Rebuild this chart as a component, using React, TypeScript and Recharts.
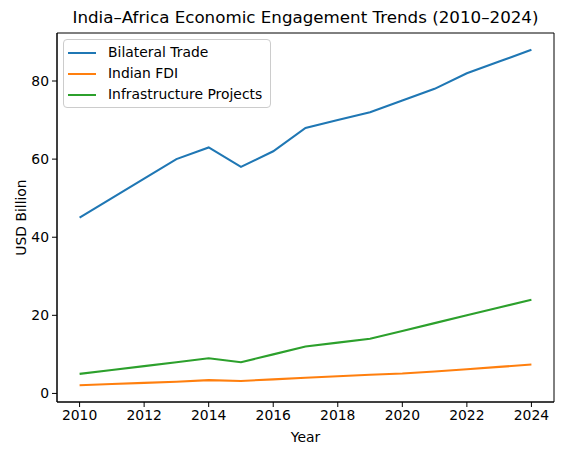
import { LineChart, Line, XAxis, YAxis, Label, ReferenceArea } from "recharts";

const years = [2010, 2011, 2012, 2013, 2014, 2015, 2016, 2017, 2018, 2019, 2020, 2021, 2022, 2023, 2024];
const bilateralTrade = [45, 50, 55, 60, 63, 58, 62, 68, 70, 72, 75, 78, 82, 85, 88];
const indianFdi = [2.1, 2.4, 2.7, 3.0, 3.4, 3.2, 3.6, 4.0, 4.4, 4.8, 5.1, 5.6, 6.2, 6.8, 7.4];
const infraProjects = [5, 6, 7, 8, 9, 8, 10, 12, 13, 14, 16, 18, 20, 22, 24];

const xTicks = [2010, 2012, 2014, 2016, 2018, 2020, 2022, 2024];
const yTicks = [0, 20, 40, 60, 80];
const xDomain = [2009.3, 2024.7];
const yDomain = [-2.195, 92.295];

const series = [
  { key: "trade", name: "Bilateral Trade", color: "#1f77b4" },
  { key: "fdi", name: "Indian FDI", color: "#ff7f0e" },
  { key: "infra", name: "Infrastructure Projects", color: "#2ca02c" },
];

const data = years.map((year, i) => ({
  year,
  trade: bilateralTrade[i],
  fdi: indianFdi[i],
  infra: infraProjects[i],
}));

const FONT = "DejaVu Sans, sans-serif";
const tickStyle = { fontSize: 13.9, fill: "#000", fontFamily: FONT };

function LegendBox() {
  return (
    <div
      style={{
        position: "absolute",
        left: 63,
        top: 39,
        border: "1px solid #cccccc",
        borderRadius: 4,
        background: "rgba(255,255,255,0.8)",
        padding: "2px 8px 2px 4px",
        fontFamily: FONT,
        fontSize: 13.9,
        lineHeight: "21px",
        zIndex: 2,
      }}
    >
      {series.map((s) => (
        <div key={s.key} style={{ display: "flex", alignItems: "center" }}>
          <span
            style={{
              display: "inline-block",
              width: 28,
              height: 2,
              background: s.color,
              marginRight: 12,
            }}
          />
          <span>{s.name}</span>
        </div>
      ))}
    </div>
  );
}

export default function App() {
  return (
    <div style={{ position: "absolute", left: 0, top: 0, width: 562, height: 455, background: "#fff" }}>
      <div
        style={{
          position: "absolute",
          left: 57,
          width: 497,
          top: 7,
          textAlign: "center",
          fontFamily: FONT,
          fontSize: 16.7,
          color: "#000",
        }}
      >
        India–Africa Economic Engagement Trends (2010–2024)
      </div>
      <LineChart width={562} height={455} data={data} margin={{ top: 33, right: 8, bottom: 23, left: 0 }}>
        <XAxis
          dataKey="year"
          type="number"
          domain={xDomain}
          ticks={xTicks}
          allowDataOverflow
          height={30}
          tick={tickStyle}
          tickLine={{ stroke: "#000" }}
          axisLine={{ stroke: "#000" }}
          tickSize={5}
          tickMargin={3}
        >
          <Label value="Year" position="bottom" offset={0} style={{ ...tickStyle }} />
        </XAxis>
        <YAxis
          type="number"
          domain={yDomain}
          ticks={yTicks}
          allowDataOverflow
          width={57}
          tick={tickStyle}
          tickLine={{ stroke: "#000" }}
          axisLine={{ stroke: "#000" }}
          tickSize={5}
          tickMargin={3}
        >
          <Label value="USD Billion" angle={-90} position="insideLeft" offset={21} style={{ ...tickStyle, textAnchor: "middle" }} />
        </YAxis>
        <ReferenceArea
          x1={xDomain[0]}
          x2={xDomain[1]}
          y1={yDomain[0]}
          y2={yDomain[1]}
          fill="none"
          stroke="#000"
          strokeWidth={1}
          ifOverflow="visible"
        />
        {series.map((s) => (
          <Line
            key={s.key}
            dataKey={s.key}
            name={s.name}
            stroke={s.color}
            strokeWidth={2.1}
            dot={false}
            isAnimationActive={false}
          />
        ))}
      </LineChart>
      <LegendBox />
    </div>
  );
}
